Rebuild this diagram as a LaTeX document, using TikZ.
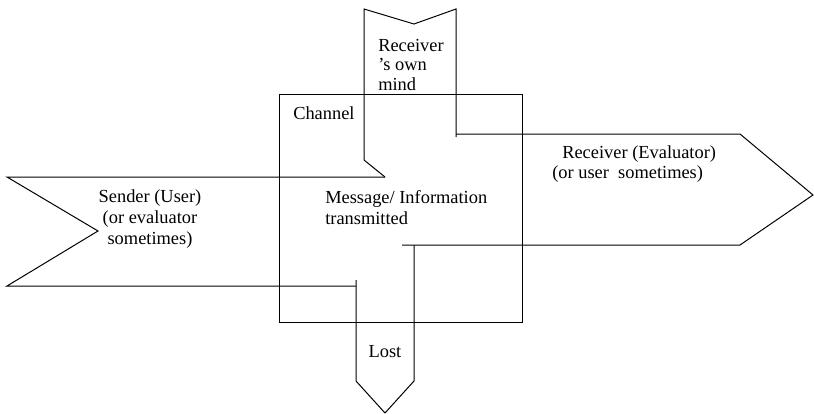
\documentclass[tikz,border=0pt]{standalone}
\usepackage{fontspec}
\setmainfont{Liberation Serif}
\begin{document}
\begin{tikzpicture}[x=0.75pt,y=-0.75pt,
  shp/.style={draw=black,line width=0.75pt,line join=miter},
  lbl/.style={inner sep=0pt,font=\fontsize{13.8}{16}\selectfont}]
\useasboundingbox (0,0) rectangle (814,414);
% channel box
\draw[shp] (279,94) rectangle (522,322);
% sender arrow
\draw[shp] (385,177) -- (7,177) -- (98,231) -- (7,286) -- (356,286);
% receiver's own mind + receiver arrow
\draw[shp] (385,177) -- (364,160) -- (364,9) -- (414,24) -- (456,9) -- (456,137);
\draw[shp] (456,134) -- (740,134) -- (813,195) -- (740,245) -- (402,245);
% lost arrow
\draw[shp] (356,280) -- (356,381) -- (385,413) -- (414,381) -- (414,245);
% labels
\node[lbl,anchor=base west] (rm1) at (378,51) {Receiver};
\node[lbl,anchor=base west] (rm2) at (378,70) {’s own};
\node[lbl,anchor=base west] (rm3) at (378,90) {mind};
\node[lbl,anchor=base west] (ch) at (293,119) {Channel};
\node[lbl,anchor=base west] (ms1) at (325,203) {Message/ Information};
\node[lbl,anchor=base west] (ms2) at (325,224) {transmitted};
\node[lbl,anchor=base] (sd1) at (150,202) {Sender (User)};
\node[lbl,anchor=base] (sd2) at (150,223) {(or evaluator};
\node[lbl,anchor=base] (sd3) at (150,244) {sometimes)};
\node[lbl,anchor=base west] (rc1) at (562,158) {Receiver (Evaluator)};
\node[lbl,anchor=base west] (rc2) at (552,178) {(or user\ \ sometimes)};
\node[lbl,anchor=base] (lost) at (385,357) {Lost};
\end{tikzpicture}
\end{document}
